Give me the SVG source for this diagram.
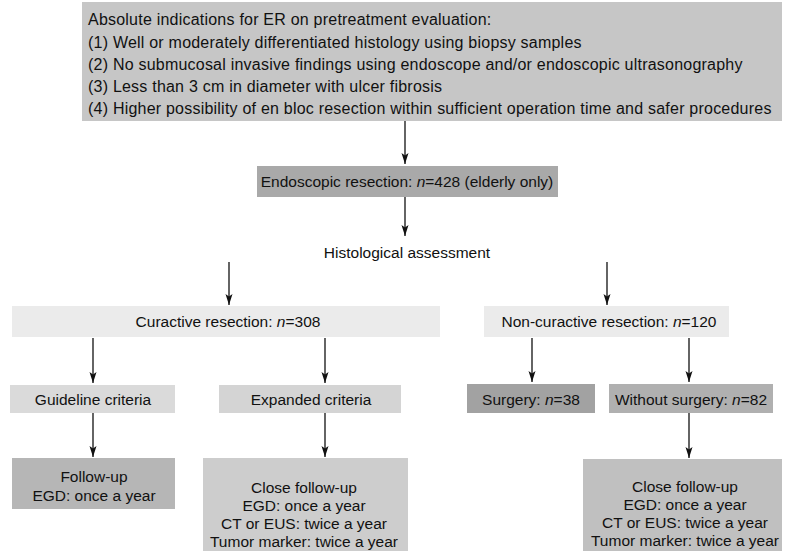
<svg xmlns="http://www.w3.org/2000/svg" width="786" height="551" viewBox="0 0 786 551">
<style>
text{font-family:"Liberation Sans",Arial,sans-serif;font-size:15.5px;fill:#111}
.t{font-size:16px;letter-spacing:0.22px}
.c{text-anchor:middle}
.ln{stroke:#111;stroke-width:1.3;fill:none;marker-end:url(#ah)}
</style>
<defs>
<marker id="ah" markerWidth="12" markerHeight="8" refX="11" refY="4" orient="auto" markerUnits="userSpaceOnUse">
<path d="M0,0.5 L11,4 L0,7.5 L2.5,4 Z" fill="#111"/>
</marker>
</defs>
<rect width="786" height="551" fill="#fff"/>
<g id="top">
<rect x="82" y="2" width="700" height="119" fill="#c6c6c6"/>
<text class="t" x="88" y="25">Absolute indications for ER on pretreatment evaluation:</text>
<text class="t" x="88" y="48">(1) Well or moderately differentiated histology using biopsy samples</text>
<text class="t" x="88" y="70">(2) No submucosal invasive findings using endoscope and/or endoscopic ultrasonography</text>
<text class="t" x="88" y="92">(3) Less than 3 cm in diameter with ulcer fibrosis</text>
<text class="t" x="88" y="114">(4) Higher possibility of en bloc resection within sufficient operation time and safer procedures</text>
</g>
<g id="er">
<rect x="257" y="166" width="301" height="31" fill="#a9a9a9"/>
<text class="c" x="407" y="187">Endoscopic resection: <tspan font-style="italic">n</tspan>=428 (elderly only)</text>
</g>
<g id="histo">
<text class="c" x="407" y="258">Histological assessment</text>
</g>
<g id="curative">
<rect x="12" y="306" width="428" height="31" fill="#ebebeb"/>
<text class="c" x="228" y="327">Curactive resection: <tspan font-style="italic">n</tspan>=308</text>
</g>
<g id="noncurative">
<rect x="484" y="306" width="245" height="31" fill="#ebebeb"/>
<text class="c" x="609" y="327">Non-curactive resection: <tspan font-style="italic">n</tspan>=120</text>
</g>
<g id="guideline">
<rect x="10" y="385" width="165" height="28" fill="#dadada"/>
<text class="c" x="93" y="405">Guideline criteria</text>
</g>
<g id="expanded">
<rect x="219" y="385" width="182" height="28" fill="#d4d4d4"/>
<text class="c" x="311" y="405">Expanded criteria</text>
</g>
<g id="surgery">
<rect x="467" y="384" width="128" height="29" fill="#a2a2a2"/>
<text class="c" x="531" y="405">Surgery: <tspan font-style="italic">n</tspan>=38</text>
</g>
<g id="without">
<rect x="609" y="384" width="164" height="29" fill="#b0b0b0"/>
<text class="c" x="691" y="405">Without surgery: <tspan font-style="italic">n</tspan>=82</text>
</g>
<g id="followup">
<rect x="12" y="458" width="163" height="51" fill="#b6b6b6"/>
<text class="c" x="94" y="482">Follow-up</text>
<text class="c" x="94" y="501">EGD: once a year</text>
</g>
<g id="closeL">
<rect x="203" y="458" width="205" height="93" fill="#cdcdcd"/>
<text class="c" x="304" y="493">Close follow-up</text>
<text class="c" x="304" y="511">EGD: once a year</text>
<text class="c" x="304" y="529">CT or EUS: twice a year</text>
<text class="c" x="304" y="547">Tumor marker: twice a year</text>
</g>
<g id="closeR">
<rect x="583" y="459" width="199" height="92" fill="#c0c0c0"/>
<text class="c" x="685" y="492">Close follow-up</text>
<text class="c" x="685" y="510">EGD: once a year</text>
<text class="c" x="685" y="528">CT or EUS: twice a year</text>
<text class="c" x="685" y="546">Tumor marker: twice a year</text>
</g>
<g id="connectors">
<line class="ln" x1="405" y1="121" x2="405" y2="164"/>
<line class="ln" x1="405" y1="197" x2="405" y2="236"/>
<line class="ln" x1="229" y1="262" x2="229" y2="305"/>
<line class="ln" x1="607" y1="262" x2="607" y2="305"/>
<line class="ln" x1="93" y1="338" x2="93" y2="383"/>
<line class="ln" x1="325" y1="338" x2="325" y2="383"/>
<line class="ln" x1="532" y1="338" x2="532" y2="382"/>
<line class="ln" x1="689" y1="338" x2="689" y2="382"/>
<line class="ln" x1="93" y1="413" x2="93" y2="457"/>
<line class="ln" x1="325" y1="413" x2="325" y2="457"/>
<line class="ln" x1="689" y1="413" x2="689" y2="458"/>
</g>
</svg>
